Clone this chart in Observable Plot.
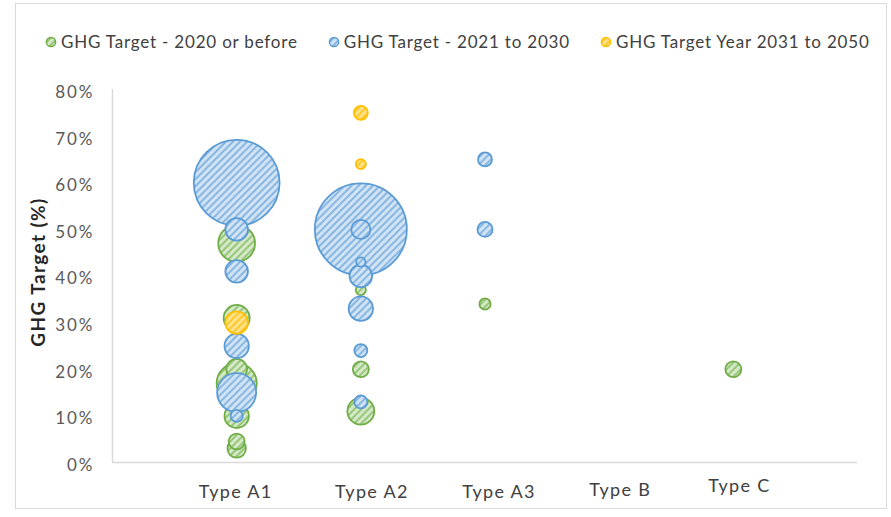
<!DOCTYPE html>
<html>
<head>
<meta charset="utf-8">
<script src="https://cdn.jsdelivr.net/npm/d3@7"></script>
<script src="https://cdn.jsdelivr.net/npm/@observablehq/plot@0.6"></script>
<style>
  body { margin: 0; background: #fff; font-family: Lato, "Liberation Sans", sans-serif; }
  #wrap { position: relative; width: 891px; height: 517px; overflow: hidden; background: #fff; }
  #frame { position: absolute; left: 15px; top: 3px; width: 872px; height: 506px; border: 1.5px solid #d9d9d9; box-sizing: border-box; pointer-events: none; }
  #legend { height: 75px; box-sizing: border-box; padding-top: 31px; padding-left: 45px; display: flex; align-items: flex-start; font-size: 17px; color: #404040; line-height: 22px; letter-spacing: 0.8px; }
  .item { display: flex; align-items: center; margin-right: 30px; white-space: nowrap; }
  .item svg { margin-right: 4px; }
  #defs { position: absolute; width: 0; height: 0; }
</style>
</head>
<body>
<svg id="defs" width="0" height="0">
  <defs>
    <pattern id="hatch-green" patternUnits="userSpaceOnUse" width="5" height="5" patternTransform="rotate(45)">
      <rect width="5" height="5" fill="#d6e9ca"></rect>
      <line x1="1.2" y1="0" x2="1.2" y2="5" stroke="#8fc26d" stroke-width="1.8"></line>
    </pattern>
    <pattern id="hatch-blue" patternUnits="userSpaceOnUse" width="5" height="5" patternTransform="rotate(45)">
      <rect width="5" height="5" fill="#d2e4f4"></rect>
      <line x1="1.2" y1="0" x2="1.2" y2="5" stroke="#7eb1e0" stroke-width="1.8"></line>
    </pattern>
    <pattern id="hatch-yellow" patternUnits="userSpaceOnUse" width="5" height="5" patternTransform="rotate(45)">
      <rect width="5" height="5" fill="#ffe28a"></rect>
      <line x1="1.2" y1="0" x2="1.2" y2="5" stroke="#ffc522" stroke-width="1.8"></line>
    </pattern>
  </defs>
</svg>
<div id="wrap">
  <div id="legend"></div>
  <div id="chart"></div>
  <div id="frame"></div>
</div>
<script>
// ---- data ----
const categories = ["Type A1", "Type A2", "Type A3", "Type B", "Type C"];
const yTicks = [0, 10, 20, 30, 40, 50, 60, 70, 80];
const yTitle = "GHG Target (%)";

const seriesNames = ["GHG Target - 2020 or before", "GHG Target - 2021 to 2030", "GHG Target Year 2031 to 2050"];

const greenCat = ["Type A1", "Type A1", "Type A1", "Type A1", "Type A1", "Type A1", "Type A1", "Type A2", "Type A2", "Type A2", "Type A3", "Type C"];
const greenTarget = [47, 31, 20, 17, 10, 4.5, 3, 37, 20, 11, 34, 20];
const greenSize = [16, 8, 5, 19, 7, 3, 4, 1.2, 3, 8.5, 1.5, 3];

const blueCat = ["Type A1", "Type A1", "Type A1", "Type A1", "Type A1", "Type A1", "Type A2", "Type A2", "Type A2", "Type A2", "Type A2", "Type A2", "Type A2", "Type A3", "Type A3"];
const blueTarget = [60, 50, 41, 25, 15, 10, 50, 50, 43, 40, 33, 24, 13, 65, 50];
const blueSize = [87, 6, 6, 7, 18, 1.7, 100, 4.3, 1, 6, 7, 2, 2, 2.3, 2.7];

const yellowCat = ["Type A1", "Type A2", "Type A2"];
const yellowTarget = [30, 75, 64];
const yellowSize = [6, 2.3, 1.2];

// ---- styles / layout ----
const seriesFill = ["url(#hatch-green)", "url(#hatch-blue)", "url(#hatch-yellow)"];
const seriesStroke = ["#70AD47", "#5B9BD5", "#FFC000"];
const labelNudge = [[-1, 30], [11, 30], [14, 30], [11, 28], [6, 24]];
const font = "Lato, 'Liberation Sans', sans-serif";

const rows = (cats, ys, ss) => cats.map((c, i) => ({cat: c, y: ys[i], size: ss[i]}));
const series = [
  rows(greenCat, greenTarget, greenSize),
  rows(blueCat, blueTarget, blueSize),
  rows(yellowCat, yellowTarget, yellowSize)
];
const xOf = d => categories.indexOf(d.cat) + 1;

// legend
const legend = document.getElementById("legend");
seriesNames.forEach((name, i) => {
  const item = document.createElement("div");
  item.className = "item";
  item.innerHTML = `<svg width="12" height="14"><circle cx="6" cy="7" r="4.6" fill="${seriesFill[i]}" stroke="${seriesStroke[i]}" stroke-width="1.5"></circle></svg><span>${name}</span>`;
  legend.appendChild(item);
});

const plot = Plot.plot({
  width: 891,
  height: 442,
  marginLeft: 112,
  marginRight: 34,
  marginTop: 14,
  marginBottom: 55,
  x: {domain: [0, 6], axis: null},
  y: {domain: [0, 80]},
  r: {type: "sqrt", domain: [0, 100], range: [0, 46]},
  style: {fontFamily: font, background: "transparent", overflow: "visible"},
  marks: [
    Plot.axisY(yTicks, {tickSize: 0, tickPadding: 18, tickFormat: d => d + "%", fontSize: 17, color: "#595959", dy: 3, label: null}),
    Plot.ruleX([0], {stroke: "#d9d9d9", strokeWidth: 1.5}),
    Plot.ruleY([0], {x1: 0, x2: 6, stroke: "#d9d9d9", strokeWidth: 1.5}),
    ...categories.map((c, i) => Plot.text([c], {
      x: () => i + 1, y: () => 0, dx: labelNudge[i][0], dy: labelNudge[i][1],
      fontSize: 18, fill: "#404040", textAnchor: "middle"
    })),
    Plot.text([yTitle], {frameAnchor: "left", textAnchor: "middle", rotate: -90, dx: -74, dy: -4, fontSize: 19, fontWeight: "bold", fill: "#262626"}),
    ...series.map((data, i) => Plot.dot(data, {
      x: xOf, y: "y", r: "size",
      fill: seriesFill[i], stroke: seriesStroke[i], strokeWidth: 1.8,
      sort: {channel: "r", order: "descending"}
    }))
  ]
});

// letter spacing tweaks to mimic the wider original face
d3.select(plot).selectAll("text").each(function() {
  const t = this.textContent;
  if (categories.includes(t)) this.style.letterSpacing = "1.3px";
  else if (t === yTitle) this.style.letterSpacing = "1.4px";
  else if (t.endsWith("%")) this.style.letterSpacing = "2px";
});
document.getElementById("chart").appendChild(plot);
</script>
</body>
</html>
